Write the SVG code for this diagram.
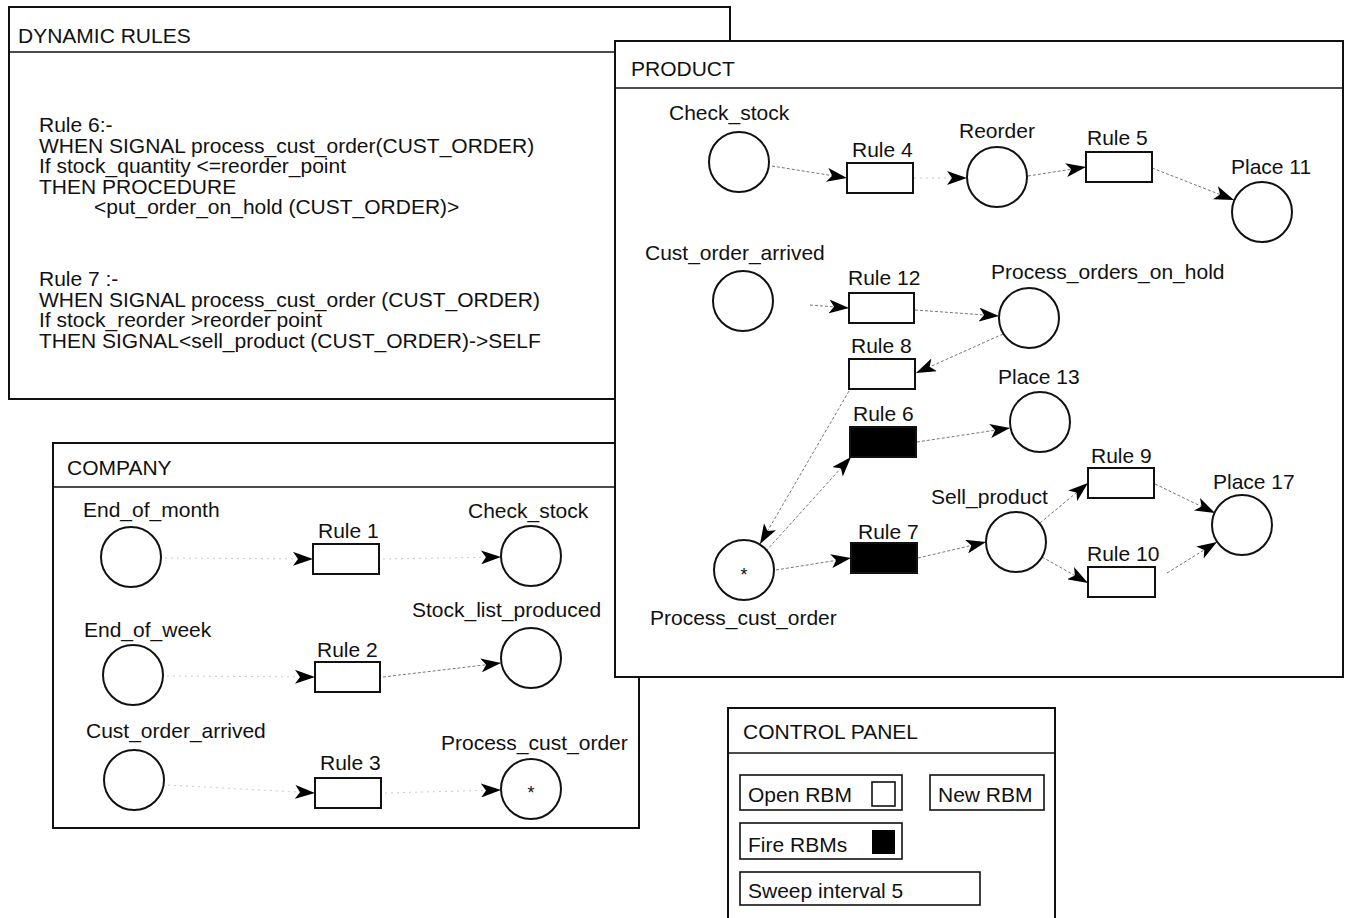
<svg xmlns="http://www.w3.org/2000/svg" width="1351" height="918" viewBox="0 0 1351 918">
<style>
text{font-family:"Liberation Sans",Arial,sans-serif;font-size:21px;fill:#111}
.win{fill:#fff;stroke:#111;stroke-width:2}
.hdr{stroke:#111;stroke-width:1.6}
.place{fill:#fff;stroke:#111;stroke-width:2}
.tr{fill:#fff;stroke:#111;stroke-width:2}
.trb{fill:#000;stroke:#111;stroke-width:2}
.conn{fill:none;stroke:#777;stroke-width:1;stroke-dasharray:3 2}
.faint{fill:none;stroke:#ccc;stroke-width:1;stroke-dasharray:2 4}
.star{font-size:18px}
.btn{fill:#fff;stroke:#111;stroke-width:1.6}
</style>
<defs>
<marker id="ah" markerUnits="userSpaceOnUse" markerWidth="20" markerHeight="14" refX="20" refY="7" orient="auto" viewBox="0 0 20 14">
<path d="M0,0 L20,7 L0,14 L5,7 z" fill="#000"/>
</marker>
</defs>

<g id="dynamic-rules">
<rect class="win" x="9" y="7" width="721" height="392"/>
<line class="hdr" x1="9" y1="52" x2="730" y2="52"/>
<text x="18" y="43">DYNAMIC RULES</text>
<text x="39" y="132">Rule 6:-</text>
<text x="39" y="152.5">WHEN SIGNAL process_cust_order(CUST_ORDER)</text>
<text x="39" y="173">If stock_quantity &lt;=reorder_point</text>
<text x="39" y="193.5">THEN PROCEDURE</text>
<text x="94" y="214">&lt;put_order_on_hold (CUST_ORDER)&gt;</text>
<text x="39" y="286">Rule 7 :-</text>
<text x="39" y="306.5">WHEN SIGNAL process_cust_order (CUST_ORDER)</text>
<text x="39" y="327">If stock_reorder &gt;reorder point</text>
<text x="39" y="347.5">THEN SIGNAL&lt;sell_product (CUST_ORDER)-&gt;SELF</text>
</g>

<g id="company">
<rect class="win" x="53" y="443" width="586" height="385"/>
<line class="hdr" x1="53" y1="487" x2="639" y2="487"/>
<text x="67" y="475">COMPANY</text>
</g>
<g id="company-connectors">
<line class="faint" x1="165" y1="558" x2="313" y2="559" marker-end="url(#ah)"/>
<line class="faint" x1="383" y1="559" x2="501" y2="557" marker-end="url(#ah)"/>
<line class="faint" x1="167" y1="676" x2="315" y2="677" marker-end="url(#ah)"/>
<line class="conn" x1="383" y1="677" x2="501" y2="663" marker-end="url(#ah)"/>
<line class="faint" x1="168" y1="785" x2="315" y2="793" marker-end="url(#ah)"/>
<line class="faint" x1="385" y1="793" x2="501" y2="790" marker-end="url(#ah)"/>
</g>
<g id="c-end-of-month"><circle class="place" cx="131" cy="557" r="30"/><text x="83" y="517">End_of_month</text></g>
<g id="c-rule1"><rect class="tr" x="313" y="544" width="66" height="30"/><text x="318" y="538">Rule 1</text></g>
<g id="c-check-stock"><circle class="place" cx="531" cy="556" r="30"/><text x="468" y="518">Check_stock</text></g>
<g id="c-end-of-week"><circle class="place" cx="133" cy="675" r="30"/><text x="84" y="637">End_of_week</text></g>
<g id="c-rule2"><rect class="tr" x="315" y="662" width="65" height="30"/><text x="317" y="657">Rule 2</text></g>
<g id="c-stock-list"><circle class="place" cx="531" cy="658" r="30"/><text x="412" y="617">Stock_list_produced</text></g>
<g id="c-cust-order"><circle class="place" cx="134" cy="780" r="30"/><text x="86" y="738">Cust_order_arrived</text></g>
<g id="c-rule3"><rect class="tr" x="315" y="778" width="66" height="30"/><text x="320" y="770">Rule 3</text></g>
<g id="c-process"><circle class="place" cx="531" cy="789" r="30"/><text class="star" x="531" y="799" text-anchor="middle">*</text><text x="441" y="750">Process_cust_order</text></g>

<g id="product">
<rect class="win" x="615" y="41" width="728" height="636"/>
<line class="hdr" x1="615" y1="88" x2="1343" y2="88"/>
<text x="631" y="76">PRODUCT</text>
</g>
<g id="product-connectors">
<line class="conn" x1="772" y1="166" x2="847" y2="178" marker-end="url(#ah)"/>
<line class="faint" x1="914" y1="178" x2="967" y2="178" marker-end="url(#ah)"/>
<line class="conn" x1="1028" y1="176" x2="1086" y2="167" marker-end="url(#ah)"/>
<line class="conn" x1="1152" y1="168" x2="1234" y2="200" marker-end="url(#ah)"/>
<line class="conn" x1="810" y1="305" x2="849" y2="308" marker-end="url(#ah)"/>
<line class="conn" x1="915" y1="310" x2="999" y2="316" marker-end="url(#ah)"/>
<line class="conn" x1="1003" y1="334" x2="916" y2="373" marker-end="url(#ah)"/>
<line class="conn" x1="849" y1="391" x2="760" y2="544" marker-end="url(#ah)"/>
<line class="conn" x1="766" y1="551" x2="851" y2="457" marker-end="url(#ah)"/>
<line class="conn" x1="776" y1="570" x2="851" y2="558" marker-end="url(#ah)"/>
<line class="conn" x1="917" y1="442" x2="1010" y2="428" marker-end="url(#ah)"/>
<line class="conn" x1="918" y1="558" x2="986" y2="542" marker-end="url(#ah)"/>
<line class="conn" x1="1040" y1="523" x2="1088" y2="483" marker-end="url(#ah)"/>
<line class="conn" x1="1042" y1="557" x2="1088" y2="583" marker-end="url(#ah)"/>
<line class="conn" x1="1155" y1="484" x2="1215" y2="513" marker-end="url(#ah)"/>
<line class="conn" x1="1167" y1="573" x2="1217" y2="542" marker-end="url(#ah)"/>
</g>
<g id="p-check-stock"><circle class="place" cx="739" cy="162" r="30"/><text x="669" y="120">Check_stock</text></g>
<g id="p-rule4"><rect class="tr" x="847" y="163" width="66" height="30"/><text x="852" y="157">Rule 4</text></g>
<g id="p-reorder"><circle class="place" cx="997" cy="177" r="30"/><text x="959" y="138">Reorder</text></g>
<g id="p-rule5"><rect class="tr" x="1086" y="152" width="66" height="30"/><text x="1087" y="145">Rule 5</text></g>
<g id="p-place11"><circle class="place" cx="1262" cy="212" r="30"/><text x="1231" y="174">Place 11</text></g>
<g id="p-cust-order"><circle class="place" cx="743" cy="301" r="30"/><text x="645" y="260">Cust_order_arrived</text></g>
<g id="p-rule12"><rect class="tr" x="849" y="293" width="65" height="30"/><text x="848" y="285">Rule 12</text></g>
<g id="p-orders-hold"><circle class="place" cx="1029" cy="318" r="30"/><text x="991" y="279">Process_orders_on_hold</text></g>
<g id="p-rule8"><rect class="tr" x="849" y="359" width="66" height="30"/><text x="851" y="353">Rule 8</text></g>
<g id="p-place13"><circle class="place" cx="1040" cy="422" r="30"/><text x="998" y="384">Place 13</text></g>
<g id="p-rule6"><rect class="trb" x="850" y="427" width="66" height="30"/><text x="853" y="421">Rule 6</text></g>
<g id="p-rule7"><rect class="trb" x="851" y="543" width="66" height="30"/><text x="858" y="539">Rule 7</text></g>
<g id="p-process"><circle class="place" cx="744" cy="570" r="30"/><text class="star" x="744" y="581" text-anchor="middle">*</text><text x="650" y="625">Process_cust_order</text></g>
<g id="p-sell"><circle class="place" cx="1016" cy="542" r="30"/><text x="931" y="504">Sell_product</text></g>
<g id="p-rule9"><rect class="tr" x="1088" y="468" width="66" height="30"/><text x="1091" y="463">Rule 9</text></g>
<g id="p-rule10"><rect class="tr" x="1088" y="567" width="67" height="30"/><text x="1087" y="561">Rule 10</text></g>
<g id="p-place17"><circle class="place" cx="1242" cy="525" r="30"/><text x="1213" y="489">Place 17</text></g>

<g id="control-panel">
<rect class="win" x="728" y="708" width="327" height="230"/>
<line class="hdr" x1="728" y1="753" x2="1055" y2="753"/>
<text x="743" y="739">CONTROL PANEL</text>
<g id="btn-open"><rect class="btn" x="740" y="775" width="162" height="35"/><text x="748" y="802">Open RBM</text><rect class="btn" x="872" y="782" width="23" height="24"/></g>
<g id="btn-new"><rect class="btn" x="930" y="775" width="114" height="35"/><text x="938" y="802">New RBM</text></g>
<g id="btn-fire"><rect class="btn" x="740" y="823" width="162" height="36"/><text x="748" y="852">Fire RBMs</text><rect x="872" y="830" width="23" height="24" fill="#000"/></g>
<g id="btn-sweep"><rect class="btn" x="740" y="872" width="240" height="33"/><text x="748" y="898">Sweep interval 5</text></g>
</g>
</svg>
